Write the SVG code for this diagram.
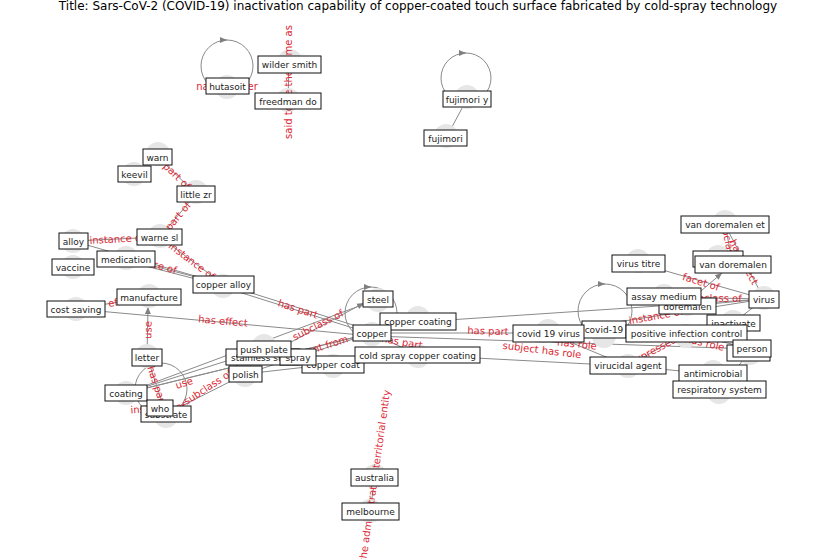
<svg xmlns="http://www.w3.org/2000/svg" width="837" height="559" viewBox="0 0 837 559">
<defs>
<marker id="arr" markerWidth="8" markerHeight="8" refX="7" refY="4" orient="auto" markerUnits="userSpaceOnUse">
<path d="M0,1 L7,4 L0,7 Z" fill="#808080"/>
</marker>
</defs>
<style>
.e{stroke:#8a8a8a;stroke-width:1;fill:none}
.loop{stroke:#8a8a8a;stroke-width:1;fill:none}
.c{fill:#e6e6e6}
.b{fill:#fff;stroke:#111;stroke-width:1}
.t{font-family:"DejaVu Sans","Liberation Sans",sans-serif;font-size:9px;fill:#222;text-anchor:middle}
.l{font-family:"DejaVu Sans","Liberation Sans",sans-serif;font-size:10px;fill:#dc2834;text-anchor:middle;dominant-baseline:central}
.title{font-family:"DejaVu Sans","Liberation Sans",sans-serif;font-size:12px;fill:#000;text-anchor:middle}
</style>
<rect width="837" height="559" fill="#fff"/>
<text class="title" x="418" y="10">Title: Sars-CoV-2 (COVID-19) inactivation capability of copper-coated touch surface fabricated by cold-spray technology</text>

<g id="edges">
<line class="e" x1="158" y1="157" x2="196" y2="194"/>
<line class="e" x1="196" y1="194" x2="160" y2="237"/>
<line class="e" x1="73" y1="241" x2="160" y2="237"/>
<line class="e" x1="160" y1="237" x2="223" y2="284"/>
<line class="e" x1="73" y1="241" x2="223" y2="284"/>
<line class="e" x1="126" y1="259" x2="223" y2="284"/>
<line class="e" x1="126" y1="261" x2="223" y2="286"/>
<line class="e" x1="223" y1="284" x2="372" y2="331"/>
<line class="e" x1="223" y1="287" x2="372" y2="334"/>
<line class="e" x1="76" y1="309" x2="372" y2="336"/>
<line class="e" x1="76" y1="309" x2="149" y2="297"/>
<line class="e" x1="147" y1="357" x2="148" y2="307" marker-end="url(#arr)"/>
<line class="e" x1="147" y1="357" x2="166" y2="414"/>
<line class="e" x1="126" y1="393" x2="378" y2="299"/>
<line class="e" x1="126" y1="393" x2="264" y2="349"/>
<line class="e" x1="126" y1="393" x2="372" y2="333"/>
<line class="e" x1="126" y1="393" x2="418" y2="322"/>
<line class="e" x1="166" y1="414" x2="245" y2="374"/>
<line class="e" x1="263" y1="357" x2="364" y2="303" marker-end="url(#arr)"/>
<line class="e" x1="245" y1="374" x2="333" y2="364"/>
<line class="e" x1="245" y1="374" x2="372" y2="333"/>
<line class="e" x1="372" y1="333" x2="418" y2="322"/>
<line class="e" x1="372" y1="333" x2="418" y2="355"/>
<line class="e" x1="372" y1="333" x2="548" y2="333"/>
<line class="e" x1="372" y1="336" x2="752" y2="349"/>
<line class="e" x1="418" y1="355" x2="628" y2="366"/>
<line class="e" x1="418" y1="322" x2="764" y2="299"/>
<line class="e" x1="548" y1="333" x2="628" y2="366"/>
<line class="e" x1="548" y1="333" x2="764" y2="299"/>
<line class="e" x1="638" y1="263" x2="764" y2="299"/>
<line class="e" x1="664" y1="297" x2="764" y2="299"/>
<line class="e" x1="687" y1="306" x2="764" y2="299"/>
<line class="e" x1="687" y1="303" x2="722" y2="273" marker-end="url(#arr)"/>
<line class="e" x1="725" y1="225" x2="764" y2="299"/>
<line class="e" x1="725" y1="225" x2="733" y2="264"/>
<line class="e" x1="733" y1="323" x2="764" y2="299"/>
<line class="e" x1="686" y1="333" x2="752" y2="349"/>
<line class="e" x1="628" y1="366" x2="713" y2="374"/>
<line class="e" x1="628" y1="366" x2="700" y2="325"/>
<line class="e" x1="719" y1="390" x2="752" y2="349"/>
<line class="e" x1="375" y1="478" x2="370" y2="511"/>
<line class="e" x1="446" y1="138" x2="467" y2="99"/>
<line class="e" x1="289" y1="64" x2="288" y2="101"/>
<circle class="loop" cx="227" cy="66" r="26"/>
<path class="loop" d="M221,40 L227,40" marker-end="url(#arr)"/>
<circle class="loop" cx="466" cy="78" r="25"/>
<path class="loop" d="M460,53 L466,53" marker-end="url(#arr)"/>
<circle class="loop" cx="371" cy="313" r="26"/>
<path class="loop" d="M365,287 L371,287" marker-end="url(#arr)"/>
<circle class="loop" cx="605" cy="311" r="27"/>
<path class="loop" d="M599,284 L605,284" marker-end="url(#arr)"/>
<circle class="loop" cx="161" cy="389" r="26"/>
</g>

<g id="node-circles">
<circle class="c" cx="227" cy="87" r="12"/>
<circle class="c" cx="290" cy="61" r="12"/>
<circle class="c" cx="288" cy="100" r="12"/>
<circle class="c" cx="467" cy="97" r="12"/>
<circle class="c" cx="446" cy="136" r="12"/>
<circle class="c" cx="158" cy="154" r="12"/>
<circle class="c" cx="134" cy="174" r="12"/>
<circle class="c" cx="196" cy="192" r="12"/>
<circle class="c" cx="160" cy="236" r="12"/>
<circle class="c" cx="73" cy="241" r="12"/>
<circle class="c" cx="126" cy="258" r="12"/>
<circle class="c" cx="73" cy="267" r="12"/>
<circle class="c" cx="223" cy="286" r="12"/>
<circle class="c" cx="149" cy="296" r="12"/>
<circle class="c" cx="76" cy="309" r="12"/>
<circle class="c" cx="147" cy="356" r="12"/>
<circle class="c" cx="126" cy="393" r="12"/>
<circle class="c" cx="166" cy="416" r="12"/>
<circle class="c" cx="264" cy="346" r="12"/>
<circle class="c" cx="245" cy="375" r="12"/>
<circle class="c" cx="333" cy="366" r="12"/>
<circle class="c" cx="372" cy="334" r="12"/>
<circle class="c" cx="378" cy="300" r="12"/>
<circle class="c" cx="418" cy="318" r="12"/>
<circle class="c" cx="418" cy="356" r="12"/>
<circle class="c" cx="548" cy="331" r="12"/>
<circle class="c" cx="604" cy="336" r="12"/>
<circle class="c" cx="628" cy="366" r="12"/>
<circle class="c" cx="638" cy="261" r="12"/>
<circle class="c" cx="664" cy="296" r="12"/>
<circle class="c" cx="687" cy="304" r="12"/>
<circle class="c" cx="686" cy="336" r="12"/>
<circle class="c" cx="718" cy="257" r="12"/>
<circle class="c" cx="725" cy="222" r="12"/>
<circle class="c" cx="764" cy="298" r="12"/>
<circle class="c" cx="733" cy="322" r="12"/>
<circle class="c" cx="750" cy="353" r="12"/>
<circle class="c" cx="713" cy="372" r="12"/>
<circle class="c" cx="719" cy="392" r="12"/>
<circle class="c" cx="375" cy="476" r="12"/>
<circle class="c" cx="370" cy="511" r="12"/>
</g>

<g id="edge-labels">
<text class="l" x="227" y="86">named after</text>
<text class="l" transform="translate(288,82) rotate(-90)">said to be the same as</text>
<text class="l" transform="translate(177,176) rotate(44)">part of</text>
<text class="l" transform="translate(178,216) rotate(-50)">part of</text>
<text class="l" transform="translate(117,239) rotate(-3)">instance of</text>
<text class="l" transform="translate(192,261) rotate(37)">instance of</text>
<text class="l" transform="translate(150,263) rotate(16)">instance of</text>
<text class="l" transform="translate(298,309) rotate(18)">has part</text>
<text class="l" transform="translate(223,321) rotate(5)">has effect</text>
<text class="l" transform="translate(112,303) rotate(-9)">has effect</text>
<text class="l" transform="translate(148,330) rotate(-89)">use</text>
<text class="l" transform="translate(157,386) rotate(72)">has part</text>
<text class="l" transform="translate(184,383) rotate(-18)">use</text>
<text class="l" transform="translate(208,387) rotate(-33)">subclass of</text>
<text class="l" transform="translate(158,408) rotate(-4)">instance of</text>
<text class="l" transform="translate(318,325) rotate(-27)">subclass of</text>
<text class="l" transform="translate(315,349) rotate(-18)">different from</text>
<text class="l" transform="translate(402,342) rotate(10)">has part</text>
<text class="l" transform="translate(488,331) rotate(2)">has part</text>
<text class="l" transform="translate(542,350) rotate(7)">subject has role</text>
<text class="l" transform="translate(577,344) rotate(6)">has role</text>
<text class="l" transform="translate(656,316) rotate(-10)">instance of</text>
<text class="l" transform="translate(701,282) rotate(17)">facet of</text>
<text class="l" transform="translate(714,298) rotate(1)">subclass of</text>
<text class="l" transform="translate(744,262) rotate(62)">has effect</text>
<text class="l" transform="translate(729,245) rotate(78)">subclass of</text>
<text class="l" transform="translate(705,343) rotate(13)">has role</text>
<text class="l" transform="translate(660,347) rotate(-28)">expressed by</text>
<text class="l" transform="translate(371,502) rotate(-82)">located in the administrative territorial entity</text>
</g>

<g id="n-hutasoit"><rect class="b" x="206" y="78" width="43" height="16"/><text class="t" x="227.5" y="89.5">hutasoit</text></g>
<g id="n-wilder-smith"><rect class="b" x="258" y="56" width="63" height="17"/><text class="t" x="289.5" y="67.5">wilder smith</text></g>
<g id="n-freedman-do"><rect class="b" x="255" y="93" width="66" height="16"/><text class="t" x="288" y="104.5">freedman do</text></g>
<g id="n-fujimori-y"><rect class="b" x="443" y="91" width="48" height="16"/><text class="t" x="467" y="102.5">fujimori y</text></g>
<g id="n-fujimori"><rect class="b" x="424" y="130" width="43" height="16"/><text class="t" x="445.5" y="141.5">fujimori</text></g>
<g id="n-warn"><rect class="b" x="143" y="149" width="29" height="16"/><text class="t" x="157.5" y="160.5">warn</text></g>
<g id="n-keevil"><rect class="b" x="118" y="166" width="33" height="16"/><text class="t" x="134.5" y="177.5">keevil</text></g>
<g id="n-little-zr"><rect class="b" x="177" y="186" width="38" height="16"/><text class="t" x="196" y="197.5">little zr</text></g>
<g id="n-warne-sl"><rect class="b" x="137" y="229" width="45" height="16"/><text class="t" x="159.5" y="240.5">warne sl</text></g>
<g id="n-alloy"><rect class="b" x="59" y="233" width="29" height="16"/><text class="t" x="73.5" y="244.5">alloy</text></g>
<g id="n-medication"><rect class="b" x="97" y="251" width="58" height="16"/><text class="t" x="126" y="262.5">medication</text></g>
<g id="n-vaccine"><rect class="b" x="52" y="259" width="42" height="16"/><text class="t" x="73" y="270.5">vaccine</text></g>
<g id="n-copper-alloy"><rect class="b" x="193" y="276" width="61" height="17"/><text class="t" x="223.5" y="287.5">copper alloy</text></g>
<g id="n-manufacture"><rect class="b" x="117" y="289" width="64" height="16"/><text class="t" x="149" y="300.5">manufacture</text></g>
<g id="n-cost-saving"><rect class="b" x="47" y="301" width="58" height="16"/><text class="t" x="76" y="312.5">cost saving</text></g>
<g id="n-letter"><rect class="b" x="132" y="349" width="30" height="17"/><text class="t" x="147" y="360.5">letter</text></g>
<g id="n-coating"><rect class="b" x="105" y="385" width="42" height="16"/><text class="t" x="126" y="396.5">coating</text></g>
<g id="n-substrate"><rect class="b" x="141" y="406" width="50" height="16"/><text class="t" x="166" y="417.5">substrate</text></g>
<g id="n-who"><rect class="b" x="147" y="400" width="26" height="16"/><text class="t" x="160" y="411.5">who</text></g>
<g id="n-copper-coat"><rect class="b" x="302" y="356" width="62" height="17"/><text class="t" x="333" y="367.5">copper coat</text></g>
<g id="n-stainless-steel"><rect class="b" x="226" y="349" width="74" height="16"/><text class="t" x="263" y="360.5">stainless steel</text></g>
<g id="n-spray"><rect class="b" x="280" y="349" width="36" height="16"/><text class="t" x="298" y="360.5">spray</text></g>
<g id="n-push-plate"><rect class="b" x="237" y="341" width="54" height="16"/><text class="t" x="264" y="352.5">push plate</text></g>
<g id="n-polish"><rect class="b" x="229" y="366" width="33" height="16"/><text class="t" x="245.5" y="377.5">polish</text></g>
<g id="n-steel"><rect class="b" x="363" y="291" width="30" height="16"/><text class="t" x="378" y="302.5">steel</text></g>
<g id="n-copper-coating"><rect class="b" x="380" y="313" width="76" height="17"/><text class="t" x="418" y="324.5">copper coating</text></g>
<g id="n-copper"><rect class="b" x="353" y="325" width="38" height="16"/><text class="t" x="372" y="336.5">copper</text></g>
<g id="n-cold-spray-copper-coating"><rect class="b" x="355" y="347" width="125" height="16"/><text class="t" x="417.5" y="358.5">cold spray copper coating</text></g>
<g id="n-covid-19"><rect class="b" x="582" y="321" width="44" height="17"/><text class="t" x="604" y="332.5">covid-19</text></g>
<g id="n-covid-19-virus"><rect class="b" x="513" y="325" width="71" height="17"/><text class="t" x="548.5" y="336.5">covid 19 virus</text></g>
<g id="n-virucidal-agent"><rect class="b" x="590" y="357" width="76" height="17"/><text class="t" x="628" y="368.5">virucidal agent</text></g>
<g id="n-virus-titre"><rect class="b" x="612" y="255" width="53" height="17"/><text class="t" x="638.5" y="266.5">virus titre</text></g>
<g id="n-doremalen"><rect class="b" x="659" y="298" width="57" height="16"/><text class="t" x="687.5" y="309.5">doremalen</text></g>
<g id="n-assay-medium"><rect class="b" x="627" y="288" width="74" height="17"/><text class="t" x="664" y="299.5">assay medium</text></g>
<g id="n-inactivate"><rect class="b" x="707" y="315" width="53" height="16"/><text class="t" x="733.5" y="326.5">inactivate</text></g>
<g id="n-positive-infection-control"><rect class="b" x="626" y="325" width="121" height="17"/><text class="t" x="686.5" y="336.5">positive infection control</text></g>
<g id="n-influenza"><rect class="b" x="693" y="251" width="50" height="16"/><text class="t" x="718" y="262.5">influenza</text></g>
<g id="n-van-doremalen"><rect class="b" x="695" y="256" width="76" height="17"/><text class="t" x="733" y="267.5">van doremalen</text></g>
<g id="n-van-doremalen-et"><rect class="b" x="681" y="216" width="88" height="17"/><text class="t" x="725" y="227.5">van doremalen et</text></g>
<g id="n-virus"><rect class="b" x="749" y="291" width="30" height="17"/><text class="t" x="764" y="302.5">virus</text></g>
<g id="n-virion"><rect class="b" x="727" y="345" width="43" height="16"/><text class="t" x="748.5" y="356.5">virion</text></g>
<g id="n-person"><rect class="b" x="733" y="340" width="38" height="17"/><text class="t" x="752" y="351.5">person</text></g>
<g id="n-antimicrobial"><rect class="b" x="679" y="365" width="68" height="17"/><text class="t" x="713" y="376.5">antimicrobial</text></g>
<g id="n-respiratory-system"><rect class="b" x="673" y="381" width="93" height="17"/><text class="t" x="719.5" y="392.5">respiratory system</text></g>
<g id="n-australia"><rect class="b" x="351" y="469" width="47" height="17"/><text class="t" x="374.5" y="480.5">australia</text></g>
<g id="n-melbourne"><rect class="b" x="342" y="503" width="57" height="17"/><text class="t" x="370.5" y="514.5">melbourne</text></g>
</svg>
